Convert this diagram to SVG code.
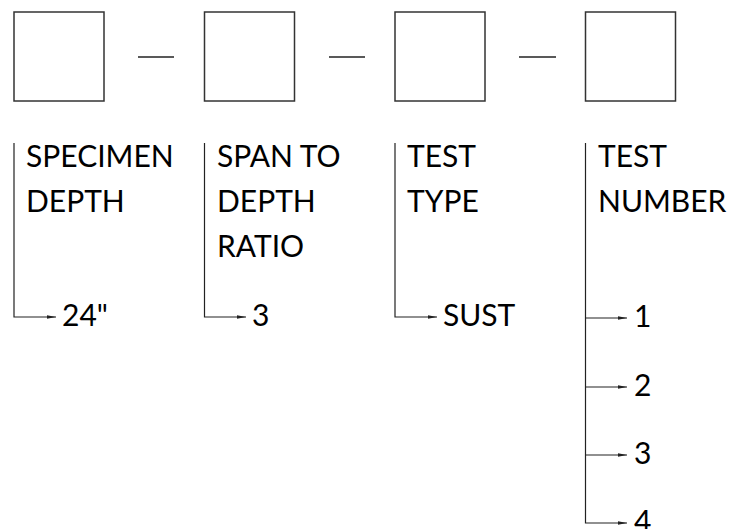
<svg xmlns="http://www.w3.org/2000/svg" width="730" height="529" viewBox="0 0 730 529">
<style>
.box{fill:#fff;stroke:#333;stroke-width:1.5}
.dash{stroke:#222;stroke-width:1.3}
.ln{fill:none;stroke:#222;stroke-width:1.2}
.t{font-family:Lato,"Liberation Sans",sans-serif;font-size:30px;fill:#000}
</style>
<defs>
<marker id="ah" markerUnits="userSpaceOnUse" markerWidth="10" markerHeight="6" refX="9" refY="3" orient="auto">
<path d="M0,1.3 L9,3 L0,4.7 z" fill="#222"/>
</marker>
</defs>
<rect width="730" height="529" fill="#fff"/>
<g id="box1"><rect class="box" x="14" y="12" width="90" height="89"/></g>
<g id="box2"><rect class="box" x="204.5" y="12" width="90" height="89"/></g>
<g id="box3"><rect class="box" x="395" y="12" width="90" height="89"/></g>
<g id="box4"><rect class="box" x="585.5" y="12" width="90" height="89"/></g>
<g id="dashes">
<line class="dash" x1="138" y1="57" x2="174" y2="57"/>
<line class="dash" x1="329" y1="57" x2="365" y2="57"/>
<line class="dash" x1="519" y1="57" x2="556" y2="57"/>
</g>
<g id="connectors">
<path class="ln" d="M14,143 V317 H56" marker-end="url(#ah)"/>
<path class="ln" d="M204.5,143 V317 H246" marker-end="url(#ah)"/>
<path class="ln" d="M395,143 V317 H437" marker-end="url(#ah)"/>
<path class="ln" d="M585.5,143 V523 H627" marker-end="url(#ah)"/>
<path class="ln" d="M585.5,318 H627" marker-end="url(#ah)"/>
<path class="ln" d="M585.5,387 H627" marker-end="url(#ah)"/>
<path class="ln" d="M585.5,455 H627" marker-end="url(#ah)"/>
</g>
<g id="label1">
<text class="t" x="26" y="167">SPECIMEN</text>
<text class="t" x="26" y="212">DEPTH</text>
</g>
<g id="label2">
<text class="t" x="217" y="167">SPAN TO</text>
<text class="t" x="217" y="212">DEPTH</text>
<text class="t" x="217" y="257">RATIO</text>
</g>
<g id="label3">
<text class="t" x="407" y="167">TEST</text>
<text class="t" x="407" y="212">TYPE</text>
</g>
<g id="label4">
<text class="t" x="598" y="167">TEST</text>
<text class="t" x="598" y="212">NUMBER</text>
</g>
<g id="values">
<text class="t" x="62" y="326">24"</text>
<text class="t" x="252" y="326">3</text>
<text class="t" x="443" y="326">SUST</text>
<text class="t" x="634" y="327">1</text>
<text class="t" x="634" y="396">2</text>
<text class="t" x="634" y="464">3</text>
<text class="t" x="634" y="532">4</text>
</g>
</svg>
